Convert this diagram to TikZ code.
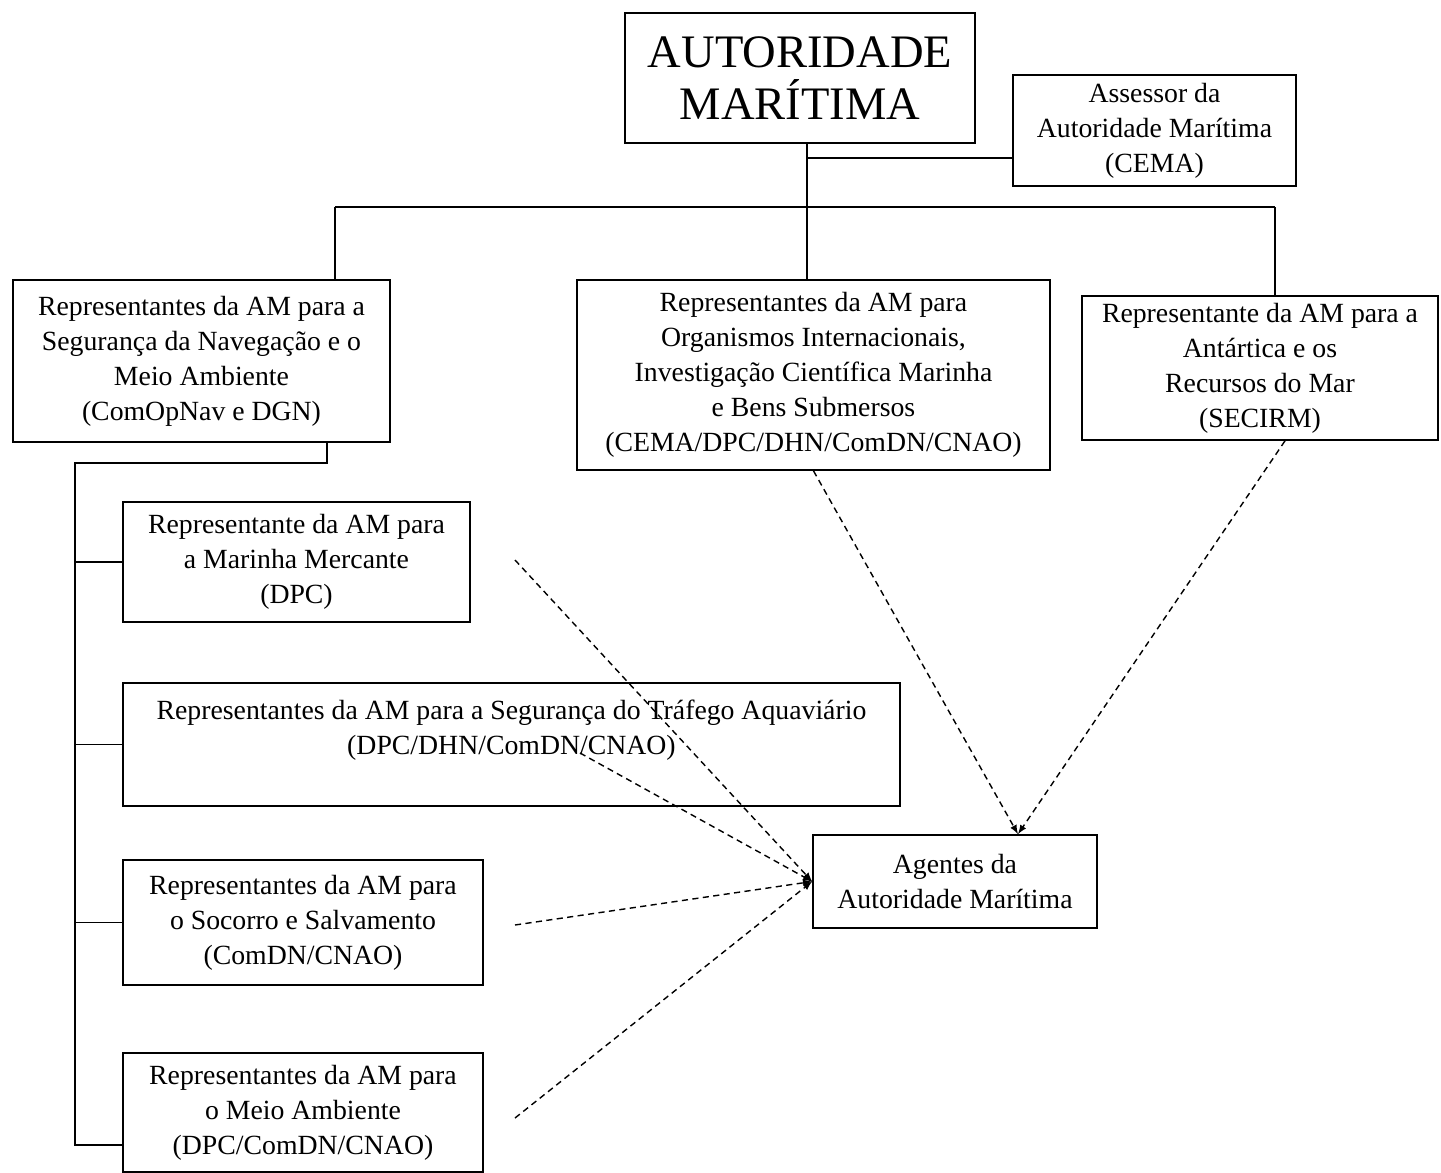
\documentclass[tikz,border=0pt]{standalone}
\usepackage{fontspec}
\setmainfont{Liberation Serif}
\tikzset{caixa/.style={draw,line width=1pt,align=center,inner sep=2pt,font=\fontsize{15.8}{19.9}\selectfont},
	tracejado/.style={->,line width=.8pt,dash pattern=on 3.5pt off 2.5pt}}
\begin{document}
\begin{tikzpicture}[>=latex,x=.02cm,y=-.02cm,line width=1pt]
		\useasboundingbox (0,0) rectangle (1441,1173);
		\node[caixa,minimum width=7cm,minimum height=2.6cm,font=\fontsize{26.5}{30}\selectfont] (am) at (800,78) {AUTORIDADE\\MARÍTIMA};
		\node[caixa,minimum width=5.66cm,minimum height=2.22cm] (assessor) at (1154.5,130.5) {Assessor da\\Autoridade Marítima\\(CEMA)};
		\node[caixa,minimum width=7.54cm,minimum height=3.24cm] (navegacao) at (201.5,361) {Representantes da AM para a\\Segurança da Navegação e o\\Meio Ambiente\\(ComOpNav e DGN)};
		\node[caixa,minimum width=9.46cm,minimum height=3.8cm] (internacional) at (813.5,375) {Representantes da AM para\\Organismos Internacionais,\\Investigação Científica Marinha\\e Bens Submersos\\(CEMA/DPC/DHN/ComDN/CNAO)};
		\node[caixa,minimum width=7.12cm,minimum height=2.88cm] (antartica) at (1260,368) {Representante da AM para a\\Antártica e os\\Recursos do Mar\\(SECIRM)};
		\node[caixa,minimum width=6.94cm,minimum height=2.4cm] (mercante) at (296.5,562) {Representante da AM para\\a Marinha Mercante\\(DPC)};
		\node[caixa,minimum width=15.54cm,minimum height=2.46cm] (trafego) at (511.5,744.5) {Representantes da AM para a Segurança do Tráfego Aquaviário\\(DPC/DHN/ComDN/CNAO)\\~};
		\node[caixa,minimum width=7.2cm,minimum height=2.5cm] (socorro) at (303,922.5) {Representantes da AM para\\o Socorro e Salvamento\\(ComDN/CNAO)};
		\node[caixa,minimum width=7.2cm,minimum height=2.38cm] (ambiente) at (303,1112.5) {Representantes da AM para\\o Meio Ambiente\\(DPC/ComDN/CNAO)};
		\node[caixa,minimum width=5.68cm,minimum height=1.86cm] (agentes) at (955,881.5) {Agentes da\\Autoridade Marítima};
		\coordinate (ramo) at (807,158);
		\coordinate (topo) at (807,207);
		\coordinate (b1) at (335,207);
		\coordinate (b3) at (1275,207);
		\coordinate (c1) at (327,463);
		\coordinate (c2) at (75,463);
		\coordinate (c3) at (75,1145);
		\draw (am.south -| topo)--(topo);
		\draw (ramo)--(ramo -| assessor.west);
		\draw (b1)--(b3);
		\draw (b1)--(b1 |- navegacao.north);
		\draw (topo)--(topo |- internacional.north);
		\draw (b3)--(b3 |- antartica.north);
		\draw (c1 |- navegacao.south)--(c1)--(c2)--(c3)--(c3 -| ambiente.west);
		\foreach \n in {mercante,trafego,socorro}
		\draw (c2 |- \n.west)--(\n.west);
		\coordinate (d1) at (515,560);
		\coordinate (d2) at (580,753);
		\coordinate (d3) at (515,925);
		\coordinate (d4) at (515,1118);
		\foreach \d in {d1,d2,d3,d4}
		\draw[tracejado] (\d)--(agentes.west);
		\draw[tracejado] (internacional.south)--([xshift=1.26cm]agentes.north);
		\draw[tracejado] ([xshift=.5cm]antartica.south)--([xshift=1.26cm]agentes.north);
	\end{tikzpicture}
\end{document}
